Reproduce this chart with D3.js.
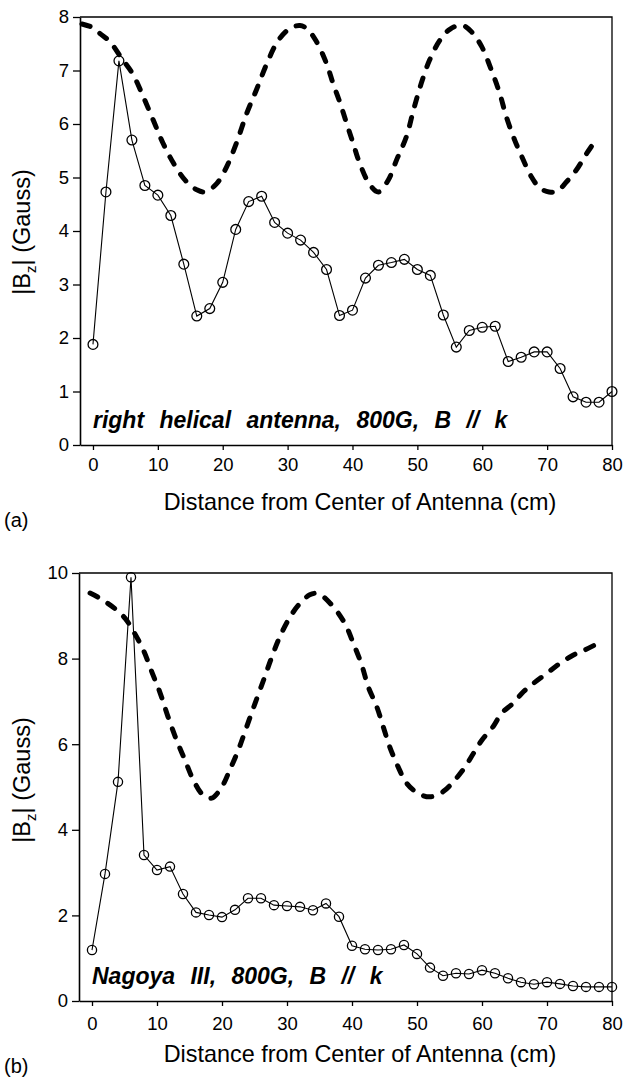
<!DOCTYPE html>
<html>
<head>
<meta charset="utf-8">
<script src="https://cdn.jsdelivr.net/npm/d3@7"></script>
<style>
  html, body { margin: 0; padding: 0; background: #fff; }
  svg { display: block; }
  text { font-family: "Liberation Sans", Arial, Helvetica, sans-serif; fill: #000; }
</style>
</head>
<body>
<svg id="fig" width="623" height="1079"></svg>
<script>
// ---------- Panel (a): right helical antenna ----------
const aPosX = [0, 2, 4, 6, 8, 10, 12, 14, 16, 18, 20, 22, 24, 26, 28, 30, 32, 34, 36, 38, 40,
               42, 44, 46, 48, 50, 52, 54, 56, 58, 60, 62, 64, 66, 68, 70, 72, 74, 76, 78, 80];
const aMeasured = [1.88, 4.73, 7.18, 5.70, 4.85, 4.67, 4.29, 3.38, 2.41, 2.55, 3.04, 4.03, 4.55, 4.65,
                   4.16, 3.96, 3.83, 3.60, 3.28, 2.42, 2.52, 3.12, 3.36, 3.41, 3.47, 3.28, 3.17, 2.43,
                   1.83, 2.14, 2.20, 2.22, 1.56, 1.64, 1.74, 1.74, 1.43, 0.90, 0.80, 0.80, 1.00];
const aCalcX = [-1.7, 0, 1.1, 2.6, 4.4, 6.2, 7.75, 9.3, 10.8, 12.4, 14.2, 16.0, 17.3, 19.1, 20.6,
                22.1, 23.7, 25.2, 26.8, 28.6, 30.4, 31.9, 33.0, 34.4, 36.0, 37.0, 38.1, 39.1, 40.1,
                41.1, 42.7, 44.0, 45.5, 46.8, 48.3, 49.4, 50.6, 51.9, 53.5, 55.0, 56.8, 58.3, 59.9,
                61.4, 62.7, 63.7, 65.0, 66.1, 67.6, 68.9, 70.3, 71.5, 73.0, 74.5, 76.1, 77.8];
const aCalcY = [7.87, 7.80, 7.69, 7.54, 7.23, 6.92, 6.51, 6.07, 5.64, 5.27, 4.95, 4.77, 4.73, 4.89, 5.20,
                5.64, 6.20, 6.64, 7.13, 7.57, 7.79, 7.84, 7.78, 7.55, 7.13, 6.76, 6.39, 6.01, 5.64,
                5.27, 4.86, 4.73, 4.95, 5.33, 5.76, 6.26, 6.76, 7.20, 7.57, 7.77, 7.85, 7.73, 7.45,
                7.01, 6.57, 6.14, 5.70, 5.39, 5.01, 4.80, 4.73, 4.74, 4.92, 5.14, 5.45, 5.75];
const aYTicks = [0, 1, 2, 3, 4, 5, 6, 7, 8];

// ---------- Panel (b): Nagoya III antenna ----------
const bPosX = [0, 2, 4, 6, 8, 10, 12, 14, 16, 18, 20, 22, 24, 26, 28, 30, 32, 34, 36, 38, 40,
               42, 44, 46, 48, 50, 52, 54, 56, 58, 60, 62, 64, 66, 68, 70, 72, 74, 76, 78, 80];
const bMeasured = [1.19, 2.97, 5.12, 9.90, 3.41, 3.06, 3.14, 2.50, 2.07, 2.01, 1.96, 2.13, 2.40, 2.40,
                   2.24, 2.22, 2.20, 2.12, 2.28, 1.97, 1.29, 1.21, 1.19, 1.21, 1.31, 1.10, 0.78, 0.59,
                   0.65, 0.63, 0.72, 0.65, 0.53, 0.44, 0.39, 0.44, 0.40, 0.35, 0.33, 0.33, 0.33];
const bCalcX = [-0.3, 1.2, 3.5, 5.1, 6.4, 7.9, 9.2, 10.5, 11.7, 13.0, 14.3, 15.6, 17.1, 18.4, 20.0,
                21.2, 22.5, 23.8, 25.1, 26.4, 27.6, 28.9, 30.5, 32.0, 33.5, 34.8, 36.9, 38.9, 40.2,
                41.5, 42.5, 43.8, 44.8, 45.8, 47.1, 48.4, 50.2, 52.0, 54.0, 55.8, 57.4, 58.7, 60.0,
                61.7, 63.0, 64.8, 66.4, 67.9, 70.0, 72.0, 74.0, 75.8, 77.9];
const bCalcY = [9.53, 9.41, 9.17, 8.94, 8.63, 8.20, 7.69, 7.19, 6.64, 6.10, 5.63, 5.16, 4.81, 4.74, 5.01,
                5.40, 5.86, 6.41, 6.96, 7.50, 8.01, 8.51, 8.98, 9.29, 9.49, 9.52, 9.25, 8.82, 8.36,
                7.85, 7.34, 6.88, 6.41, 5.94, 5.47, 5.09, 4.85, 4.77, 4.89, 5.16, 5.47, 5.79, 6.10,
                6.41, 6.72, 6.96, 7.23, 7.42, 7.66, 7.89, 8.08, 8.20, 8.36];
const bYTicks = [0, 2, 4, 6, 8, 10];

const xTicks = [0, 10, 20, 30, 40, 50, 60, 70, 80];
const xTitle = "Distance from Center of Antenna (cm)";

const svg = d3.select("#fig");

function drawPanel(p) {
  const x = d3.scaleLinear().domain([-2, 80]).range([p.left, p.right]);
  const y = d3.scaleLinear().domain([0, p.yMax]).range([p.bottom, p.top]);
  const g = svg.append("g");

  // frame (top and right edges)
  g.append("path")
    .attr("d", `M${x(-2)},${y(p.yMax)}H${x(80)}V${y(0)}`)
    .attr("fill", "none").attr("stroke", "#000").attr("stroke-width", 1.3);

  // axes
  const yAxis = g.append("g").attr("transform", `translate(${x(-2)},0)`)
    .call(d3.axisLeft(y).tickValues(p.yTicks).tickSize(7).tickPadding(4).tickSizeOuter(0));
  const xAxis = g.append("g").attr("transform", `translate(0,${y(0)})`)
    .call(d3.axisBottom(x).tickValues(xTicks).tickSize(5).tickPadding(p.xPad).tickSizeOuter(0));
  [yAxis, xAxis].forEach(a => {
    a.select(".domain").attr("stroke-width", 1.6);
    a.selectAll(".tick line").attr("stroke-width", 1.3);
    a.selectAll("text").style("font-size", "18.5px").attr("fill", "#000");
  });

  // calculated field (thick dashed curve)
  const calc = p.calcX.map((v, i) => [v, p.calcY[i]]);
  g.append("path").datum(calc)
    .attr("d", d3.line().x(d => x(d[0])).y(d => y(d[1])).curve(d3.curveCatmullRom.alpha(0.5)))
    .attr("fill", "none").attr("stroke", "#000").attr("stroke-width", 5)
    .attr("stroke-linecap", "round").attr("stroke-dasharray", "8.5 12");

  // measured field (thin line with open circles)
  const meas = p.posX.map((v, i) => [v, p.meas[i]]);
  g.append("path").datum(meas)
    .attr("d", d3.line().x(d => x(d[0])).y(d => y(d[1])))
    .attr("fill", "none").attr("stroke", "#000").attr("stroke-width", 1.1);
  g.selectAll("circle").data(meas).join("circle")
    .attr("cx", d => x(d[0])).attr("cy", d => y(d[1])).attr("r", p.r)
    .attr("fill", "none").attr("stroke", "#000").attr("stroke-width", 1.3);

  // annotation
  g.append("text").attr("x", x(0)).attr("y", p.noteY)
    .style("font-size", "23px").style("font-weight", "bold").style("font-style", "italic")
    .style("word-spacing", "9px")
    .text(p.note);

  // y title  |B_z| (Gauss)
  const yt = g.append("text")
    .attr("transform", `translate(${p.yTitleX},${p.yTitleY}) rotate(-90)`)
    .attr("text-anchor", "middle").style("font-size", "23.5px");
  yt.append("tspan").text("|B");
  yt.append("tspan").attr("dy", 6).style("font-size", "15px").text("z");
  yt.append("tspan").attr("dy", -6).text("| (Gauss)");

  // x title
  g.append("text").attr("x", 360).attr("y", p.xTitleY).attr("text-anchor", "middle")
    .style("font-size", "23.4px").text(xTitle);

  // panel letter
  g.append("text").attr("x", 4).attr("y", p.letterY).style("font-size", "20px").text(p.letter);
}

drawPanel({
  left: 80, right: 612, top: 17, bottom: 445, yMax: 8, yTicks: aYTicks, xPad: 8, r: 4.9,
  posX: aPosX, meas: aMeasured, calcX: aCalcX, calcY: aCalcY,
  note: "right helical antenna, 800G, B // k", noteY: 428,
  yTitleX: 30, yTitleY: 232, xTitleY: 510, letter: "(a)", letterY: 527
});

drawPanel({
  left: 79, right: 612, top: 573, bottom: 1001, yMax: 10, yTicks: bYTicks, xPad: 11, r: 4.6,
  posX: bPosX, meas: bMeasured, calcX: bCalcX, calcY: bCalcY,
  note: "Nagoya III, 800G, B // k", noteY: 984,
  yTitleX: 30, yTitleY: 780, xTitleY: 1062, letter: "(b)", letterY: 1073
});
</script>
</body>
</html>
